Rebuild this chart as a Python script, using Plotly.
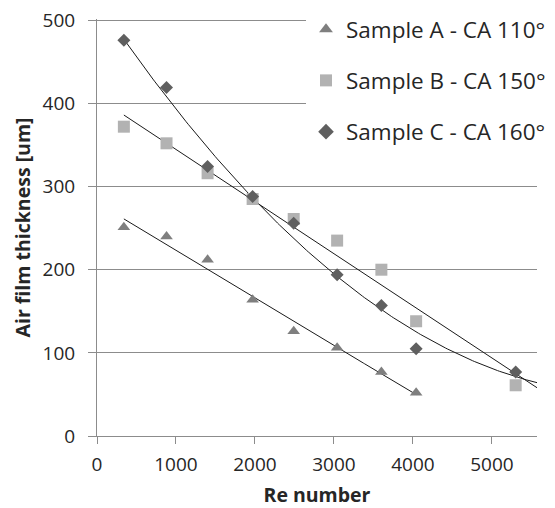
import numpy as np
import plotly.graph_objects as go

# ---- data ----
re_a = [340, 880, 1400, 1970, 2490, 3040, 3600, 4040]
thick_a = [251, 240, 212, 164, 126, 106, 77, 52]

re_b = [340, 880, 1400, 1970, 2490, 3040, 3600, 4040, 5300]
thick_b = [372, 352, 316, 285, 261, 235, 200, 138, 61]

re_c = [340, 880, 1400, 1970, 2490, 3040, 3600, 4040, 5300]
thick_c = [476, 419, 324, 288, 256, 194, 157, 105, 77]

names = ["Sample A - CA 110°", "Sample B - CA 150°", "Sample C - CA 160°"]
x_ticks = [0, 1000, 2000, 3000, 4000, 5000]
y_ticks = [0, 100, 200, 300, 400, 500]
X_MAX = 5570
Y_MAX = 501.5   # a hair above 500 so the top gridline is drawn inside the plot

FONT = "Open Sans"
TXT = "#262626"
GRID = "#8c8c8c"

# the page body has an 8px margin, so the figure is sized to fill the window
W, H = 547, 500

fig = go.Figure()

series = [
    (re_a, thick_a, names[0], "triangle-up", "#7f7f7f", 11, 2, False),
    (re_b, thick_b, names[1], "square", "#b2b2b2", 12, 1, True),
    (re_c, thick_c, names[2], "diamond", "#5f5f5f", 10, 2, True),
]

# trendlines (least-squares fits of each series, as in the source chart)
for xs, ys, name, sym, col, size, deg, extend in series:
    coef = np.polyfit(xs, ys, deg)
    x_end = X_MAX if extend else max(xs)
    xt = np.linspace(min(xs), x_end, 200)
    fig.add_trace(go.Scatter(x=xt, y=np.polyval(coef, xt), mode="lines",
                             line=dict(color="#1a1a1a", width=1),
                             showlegend=False, hoverinfo="skip"))

for i, (xs, ys, name, sym, col, size, deg, extend) in enumerate(series):
    fig.add_trace(go.Scatter(x=xs, y=ys, mode="markers", name=name,
                             legendgroup=f"g{i}",
                             marker=dict(symbol=sym, color=col, size=size,
                                         line=dict(width=0))))

fig.update_layout(
    width=W, height=H,
    margin=dict(l=89, r=18, t=11, b=72, autoexpand=False),
    paper_bgcolor="white", plot_bgcolor="white",
    font=dict(family=FONT, color=TXT, size=19),
    legend=dict(xref="container", yref="container",
                x=298 / W, y=1.0, xanchor="left", yanchor="top",
                bgcolor="white", font=dict(size=22.5, color=TXT),
                tracegroupgap=19, itemsizing="constant"),
    xaxis=dict(range=[0, X_MAX], tickvals=x_ticks, ticks="outside", ticklen=7,
               tickcolor=GRID, showline=True, linecolor=GRID,
               showgrid=False, zeroline=False, automargin=False,
               ticklabelstandoff=4, ticklabeloverflow="allow",
               tickfont=dict(size=19, color=TXT),
               title=dict(text="<b>Re number</b>", font=dict(size=19.5, color=TXT),
                          standoff=19)),
    yaxis=dict(range=[0, Y_MAX], tickvals=y_ticks, ticks="outside", ticklen=8,
               tickcolor=GRID, showline=True, linecolor=GRID, showgrid=True,
               gridcolor=GRID, gridwidth=1, zeroline=False, automargin=False,
               ticklabelstandoff=9, ticklabeloverflow="allow",
               tickfont=dict(size=19, color=TXT),
               title=dict(text="<b>Air film thickness [um]</b>",
                          font=dict(size=19.5, color=TXT), standoff=6)),
)

fig.write_html("out.html")
